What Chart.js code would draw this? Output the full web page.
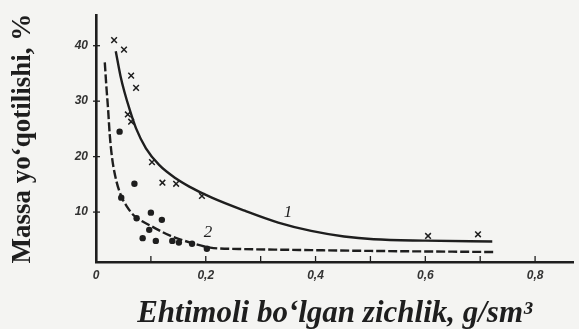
<!DOCTYPE html>
<html>
<head>
<meta charset="utf-8">
<script src="https://cdn.jsdelivr.net/npm/chart.js@4.4.1/dist/chart.umd.min.js"></script>
<style>
  html, body { margin: 0; padding: 0; background: #f4f4f2; }
  #wrap { width: 579px; height: 329px; position: relative; }
</style>
</head>
<body>
<div id="wrap"><canvas id="massChart"></canvas></div>
<script>
"use strict";

// Measured points: crosses (curve 1) and dots (curve 2)
const crossX = [0.033, 0.051, 0.064, 0.073, 0.058, 0.064, 0.102, 0.121, 0.146, 0.193, 0.605, 0.696];
const crossY = [41.0, 39.3, 34.6, 32.4, 27.6, 26.3, 19.0, 15.3, 15.1, 12.9, 5.7, 6.0];

const dotX = [0.043, 0.070, 0.046, 0.074, 0.100, 0.120, 0.097, 0.085, 0.109, 0.139, 0.151, 0.175, 0.202];
const dotY = [24.5, 15.1, 12.6, 8.9, 9.9, 8.6, 6.8, 5.3, 4.8, 4.8, 4.5, 4.3, 3.4];

// Fitted curves
const curve1X = [0.036, 0.0445, 0.052, 0.061, 0.073, 0.091, 0.115, 0.145, 0.170, 0.211, 0.272, 0.332, 0.392, 0.452, 0.506, 0.600, 0.722];
const curve1Y = [39.0, 34.6, 31.6, 28.6, 25.1, 21.5, 18.5, 16.1, 14.6, 12.6, 10.2, 8.1, 6.6, 5.6, 5.1, 4.85, 4.7];

const curve2X = [0.016, 0.019, 0.022, 0.025, 0.029, 0.035, 0.045, 0.057, 0.070, 0.085, 0.100, 0.136, 0.172, 0.208, 0.260, 0.350, 0.500, 0.724];
const curve2Y = [37.0, 32.5, 28.6, 24.0, 20.0, 16.5, 13.1, 10.9, 9.3, 8.3, 7.5, 5.7, 4.5, 3.6, 3.35, 3.2, 3.0, 2.8];

const xTickVals = [0, 0.2, 0.4, 0.6, 0.8];
const xMinorVals = [0.1, 0.2, 0.3, 0.4, 0.5, 0.6, 0.7, 0.8];
const yTickVals = [10, 20, 30, 40];

const ink = '#1e1e1e';
const tickFont = { family: 'Liberation Sans', style: 'italic', weight: 'bold', size: 12 };

const pts = (xs, ys) => xs.map((x, i) => ({ x: x, y: ys[i] }));

// short tick marks and curve numbers
const marksPlugin = {
    id: 'marks',
    afterDraw(chart) {
        const { ctx, scales: { x, y } } = chart;
        ctx.save();
        ctx.strokeStyle = ink;
        ctx.lineWidth = 1.3;
        yTickVals.forEach(v => {
            const py = y.getPixelForValue(v);
            ctx.beginPath();
            ctx.moveTo(x.left - 3, py);
            ctx.lineTo(x.left + 4, py);
            ctx.stroke();
        });
        xMinorVals.forEach(v => {
            const px = x.getPixelForValue(v);
            ctx.beginPath();
            ctx.moveTo(px, y.bottom - 6);
            ctx.lineTo(px, y.bottom);
            ctx.stroke();
        });
        ctx.fillStyle = ink;
        ctx.font = 'italic 17px "Liberation Serif"';
        ctx.textAlign = 'center';
        ctx.textBaseline = 'middle';
        ctx.fillText('1', x.getPixelForValue(0.35), y.getPixelForValue(9.9));
        ctx.fillText('2', x.getPixelForValue(0.204), y.getPixelForValue(6.3));
        ctx.restore();
    }
};

new Chart(document.getElementById('massChart'), {
    type: 'scatter',
    data: {
        datasets: [
            {
                data: pts(curve1X, curve1Y),
                showLine: true,
                borderColor: ink,
                borderWidth: 2.4,
                pointRadius: 0,
                cubicInterpolationMode: 'monotone'
            },
            {
                data: pts(curve2X, curve2Y),
                showLine: true,
                borderColor: ink,
                borderWidth: 2.4,
                borderDash: [9, 3],
                pointRadius: 0,
                cubicInterpolationMode: 'monotone'
            },
            {
                data: pts(crossX, crossY),
                pointStyle: 'crossRot',
                pointRadius: 4,
                borderColor: ink,
                borderWidth: 1.5
            },
            {
                data: pts(dotX, dotY),
                pointStyle: 'circle',
                pointRadius: 3.2,
                backgroundColor: ink,
                borderColor: ink,
                borderWidth: 0
            }
        ]
    },
    options: {
        responsive: true,
        maintainAspectRatio: false,
        animation: false,
        layout: { padding: { top: 5, right: 0, left: 0, bottom: 0 } },
        plugins: {
            legend: { display: false },
            tooltip: { enabled: false }
        },
        scales: {
            x: {
                type: 'linear',
                min: 0,
                max: 0.87,
                afterBuildTicks: s => { s.ticks = xTickVals.map(v => ({ value: v })); },
                afterFit: s => { s.height = 67; },
                grid: { display: false, drawTicks: false },
                border: { display: true, color: ink, width: 2.6 },
                ticks: {
                    padding: 6,
                    color: '#333',
                    font: tickFont,
                    callback: v => v === 0 ? '0' : v.toFixed(1).replace('.', ',')
                },
                title: {
                    display: true,
                    text: 'Ehtimoli bo‘lgan zichlik, g/sm³',
                    color: ink,
                    padding: { top: 4, bottom: 0 },
                    font: { family: 'Liberation Serif', style: 'italic', weight: 'bold', size: 31, lineHeight: 1.0 }
                }
            },
            y: {
                type: 'linear',
                min: 1,
                max: 45.5,
                afterBuildTicks: s => { s.ticks = yTickVals.map(v => ({ value: v })); },
                afterFit: s => { s.width = 96; },
                grid: { display: false, drawTicks: false },
                border: { display: true, color: ink, width: 2.6 },
                ticks: {
                    padding: 8,
                    color: '#333',
                    font: tickFont
                },
                title: {
                    display: true,
                    text: 'Massa yo‘qotilishi, %',
                    color: ink,
                    padding: { top: 7, bottom: 0 },
                    font: { family: 'Liberation Serif', weight: 'bold', size: 27 }
                }
            }
        }
    },
    plugins: [marksPlugin]
});
</script>
</body>
</html>
